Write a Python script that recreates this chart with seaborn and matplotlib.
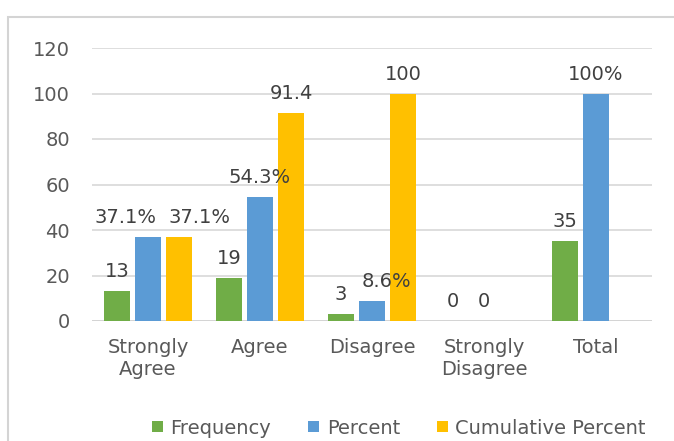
import numpy as np
import pandas as pd
import matplotlib
matplotlib.use("Agg")
import matplotlib.pyplot as plt
import seaborn as sns
from matplotlib.patches import Rectangle

# chart data
categories = ["Strongly\nAgree", "Agree", "Disagree", "Strongly\nDisagree", "Total"]
series = ["Frequency", "Percent", "Cumulative Percent"]
frequency = [13, 19, 3, 0, 35]
percent = [37.1, 54.3, 8.6, 0, 100]
cumulative = [37.1, 91.4, 100, None, None]

frequency_labels = ["13", "19", "3", "0", "35"]
percent_labels = ["37.1%", "54.3%", "8.6%", "0", "100%"]
cumulative_labels = ["37.1%", "91.4", "100", "", ""]

colors = ["#70AD47", "#5B9BD5", "#FFC000"]
text_grey = "#595959"
label_grey = "#404040"
grid_grey = "#D4D4D4"

# manual label nudges (pixels), like the hand-moved Excel labels
label_nudge = {("Percent", 0): -23, ("Cumulative Percent", 0): 21, ("Percent", 2): 14}

FS = 14


def build_frame():
    rows = []
    for name, values in zip(series, [frequency, percent, cumulative]):
        for cat, v in zip(categories, values):
            if v is not None:
                rows.append({"category": cat, "series": name, "value": v})
    return pd.DataFrame(rows)


def main():
    sns.set_theme(style="white")
    plt.rcParams["font.family"] = ["DejaVu Sans"]

    df = build_frame()
    fig = plt.figure(figsize=(6.74, 4.41), dpi=100)
    ax = fig.add_axes([92 / 674, 1 - 321 / 441, 560 / 674, 273 / 441])

    sns.barplot(data=df, x="category", y="value", hue="series",
                order=categories, hue_order=series, palette=colors,
                width=0.83, gap=0.16, saturation=1, ax=ax, legend=True,
                linewidth=0)

    ax.set_ylim(0, 120)
    ax.set_xlim(-0.5, 4.5)
    ax.set_yticks(range(0, 121, 20))
    ax.yaxis.grid(True, color=grid_grey, linewidth=1.1)
    ax.set_axisbelow(True)
    for side in ["top", "right", "left", "bottom"]:
        ax.spines[side].set_visible(False)
    ax.axhline(0, color=grid_grey, linewidth=1.3, zorder=0.5)
    ax.set_xlabel("")
    ax.set_ylabel("")
    ax.tick_params(axis="y", length=0, pad=16, labelsize=FS, labelcolor=text_grey)
    ax.tick_params(axis="x", length=0, pad=12, labelsize=FS, labelcolor=text_grey)
    for t in ax.get_xticklabels():
        t.set_linespacing(1.2)

    # data labels
    all_labels = {"Frequency": frequency_labels, "Percent": percent_labels,
                  "Cumulative Percent": cumulative_labels}
    for name, container in zip(series, ax.containers):
        for bar in container:
            h = bar.get_height()
            if np.isnan(h):
                continue
            cx = bar.get_x() + bar.get_width() / 2
            idx = int(round(cx))
            text = all_labels[name][idx]
            if not text:
                continue
            dx = label_nudge.get((name, idx), 0)
            ax.annotate(text, (cx, h), xytext=(dx, 19.5), textcoords="offset pixels",
                        ha="center", va="center", fontsize=FS, color=label_grey)

    # legend at the bottom
    ax.legend_.remove()
    handles, labels = ax.get_legend_handles_labels()
    fig.legend(handles[:3], labels[:3], loc="center", ncol=3,
               bbox_to_anchor=(399 / 674, 1 - 428 / 441), frameon=False,
               fontsize=FS, labelcolor=text_grey, handlelength=0.55,
               handleheight=0.55, handletextpad=0.4, columnspacing=1.9)

    # chart border
    fig.patches.append(Rectangle((8 / 674, -0.05), 1.0, (441 - 17) / 441 + 0.05,
                                 transform=fig.transFigure, fill=False,
                                 edgecolor=grid_grey, linewidth=1.5))

    fig.savefig("out.png", dpi=100, facecolor="white")
    plt.close(fig)


if __name__ == "__main__":
    main()
